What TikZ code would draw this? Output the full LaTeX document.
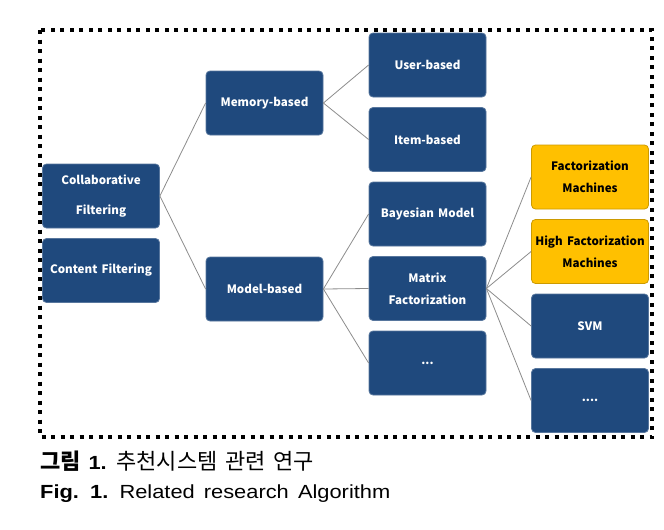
\documentclass[tikz,border=0pt]{standalone}
\usepackage{fontspec}
\setmainfont{Liberation Sans}
\newfontfamily\boxfont[WordSpace=0.75]{Noto Sans CJK KR}
\newfontfamily\kofont[WordSpace=1.6]{Noto Sans CJK KR}
\newfontfamily\capfont[FakeStretch=1.15,WordSpace=1.5]{Liberation Sans}
\usetikzlibrary{positioning}
\definecolor{boxblue}{RGB}{31,73,125}
\definecolor{boxgold}{RGB}{255,192,0}
\definecolor{linkgray}{RGB}{140,140,140}
\begin{document}
\begin{tikzpicture}[x=1pt, y=-1pt, node distance=74.5pt,
    box/.style={draw=boxblue!75!white, line width=0.8pt, rounded corners=4pt, fill=boxblue, text=white, minimum width=117pt, minimum height=64pt, align=center, font=\boxfont\bfseries\fontsize{11.6}{22}\selectfont},
    goldbox/.style={box, fill=boxgold, draw=boxgold!80!black, text=black},
    link/.style={draw=linkgray, line width=0.8pt}]
    \useasboundingbox (0,0) rectangle (664,530);
    % Frame
    \draw[line width=3.5pt, dash pattern=on 4pt off 5.5pt] (40,30) rectangle (652,437);

    % Nodes
    \node[box] (collab) at (101,196) {Collaborative\\[8pt]Filtering};
    \node[box, below of=collab] (content) {Content Filtering};
    \node[box] (memory) at (264.5,103) {Memory-based};
    \node[box] (model) at (264.5,289) {Model-based};
    \node[box] (user) at (427.5,65) {User-based};
    \node[box, below of=user] (item) {Item-based};
    \node[box, below of=item] (bayes) {Bayesian Model};
    \node[box, below of=bayes] (matrix) {Matrix\\Factorization};
    \node[box, below of=matrix] (mdots) {...};
    \node[goldbox] (fm) at (590,177) {Factorization\\Machines};
    \node[goldbox, below of=fm] (hfm) {High Factorization\\Machines};
    \node[box, below of=hfm] (svm) {SVM};
    \node[box, below of=svm] (rdots) {....};

    % Links
    \draw[link] (collab.east) -- (memory.west);
    \draw[link] (collab.east) -- (model.west);
    \draw[link] (memory.east) -- (user.west);
    \draw[link] (memory.east) -- (item.west);
    \draw[link] (model.east) -- (bayes.west);
    \draw[link] (model.east) -- (matrix.west);
    \draw[link] (model.east) -- (mdots.west);
    \foreach \t in {fm, hfm, svm, rdots}
      \draw[link] (matrix.east) -- (\t.west);

    % Caption
    \node[anchor=base west, inner sep=0pt, font=\kofont\fontsize{22}{24}\selectfont] (kocap) at (40,469) {\textbf{그림} {\capfont\bfseries\fontsize{19}{20}\selectfont 1.} 추천시스템 관련 연구};
    \node[anchor=base west, inner sep=0pt, font=\capfont\fontsize{19}{20}\selectfont] (encap) at (40,498) {\textbf{Fig. 1.} Related research Algorithm};
\end{tikzpicture}
\end{document}
